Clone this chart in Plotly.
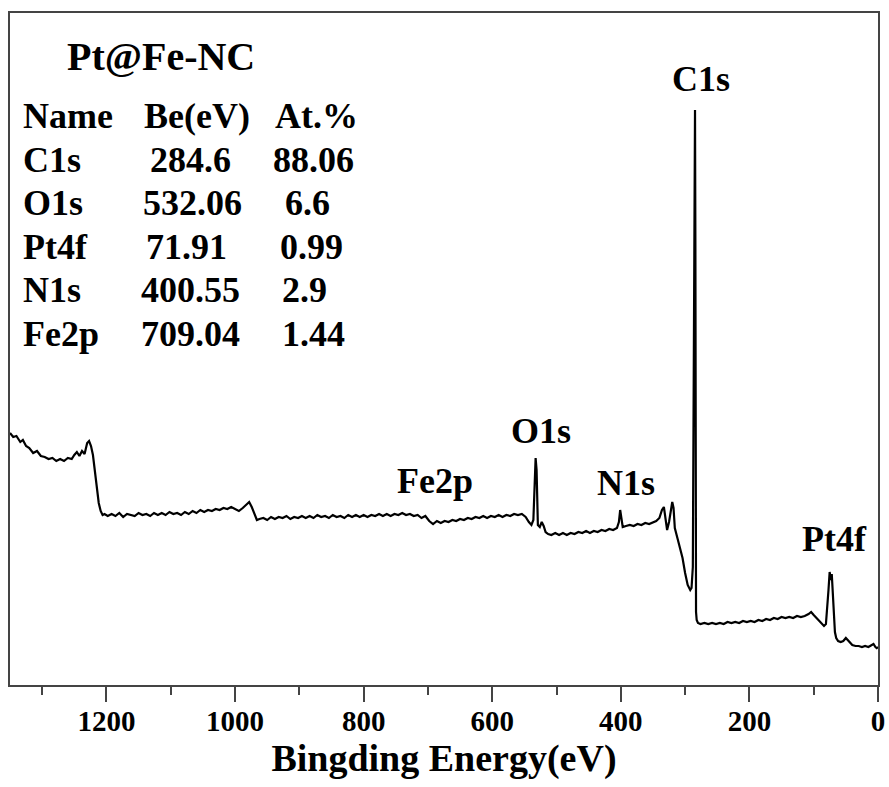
import plotly.graph_objects as go

# XPS survey spectrum of Pt@Fe-NC (binding energy in eV, intensity in kCPS)
binding_energy = [
    1350, 1345, 1340, 1334, 1330, 1325, 1320, 1314, 1308, 1302, 1296, 1290, 1284, 1278, 1272,
    1266, 1260, 1254, 1250, 1246, 1242, 1238, 1234, 1230, 1227, 1224, 1221, 1218, 1215, 1212,
    1209, 1206, 1203, 1198, 1192, 1186, 1180, 1174, 1168, 1162, 1156, 1150, 1144, 1138, 1132,
    1126, 1120, 1114, 1108, 1102, 1096, 1090, 1084, 1078, 1072, 1066, 1060, 1054, 1048, 1042,
    1036, 1030, 1024, 1018, 1012, 1006, 1000, 994, 988, 982, 978, 974, 970, 966, 962,
    956, 950, 944, 938, 932, 926, 920, 914, 908, 902, 896, 890, 884, 878, 872,
    866, 860, 854, 848, 842, 836, 830, 824, 818, 812, 806, 800, 794, 788, 782,
    776, 770, 764, 758, 752, 746, 740, 734, 728, 722, 716, 710, 704, 698, 692,
    686, 680, 674, 668, 662, 656, 650, 644, 638, 632, 626, 620, 614, 608, 602,
    596, 590, 584, 578, 572, 566, 560, 554, 548, 543, 539, 536, 534, 532.5, 531,
    529, 526, 523, 520, 517, 513, 508, 502, 496, 490, 484, 478, 472, 466, 460,
    454, 448, 442, 436, 430, 424, 418, 412, 406, 403, 401, 399, 397, 392, 386,
    380, 374, 368, 362, 356, 350, 345, 340, 336, 333, 330, 328, 325, 322, 320,
    318, 316, 312, 308, 304, 300, 296, 292, 290, 288, 286.5, 285.5, 284.6, 284, 283.4,
    283, 282, 280, 276, 270, 264, 258, 252, 246, 240, 234, 228, 222, 216, 210,
    204, 198, 192, 186, 180, 174, 168, 162, 156, 150, 144, 138, 132, 126, 120,
    114, 108, 104, 100, 96, 92, 88, 84, 81, 79, 77, 75.2, 73.5, 71.9, 70.5,
    69, 67, 65, 62, 58, 54, 50, 47, 44, 40, 35, 30, 25, 20, 15,
    10, 7, 4, 2, 0,
]
intensity = [
    63.0, 62.0, 62.25, 60.75, 61.25, 59.75, 59.25, 58.0, 58.5, 57.25, 57.0, 56.5, 56.75, 56.0, 56.5,
    56.0, 56.75, 56.5, 57.5, 58.25, 57.25, 58.5, 57.75, 60.5, 61.0, 59.75, 57.5, 53.75, 49.25, 45.5,
    43.5, 42.5, 42.75, 42.25, 42.75, 42.25, 43.0, 42.0, 42.75, 42.5, 42.25, 43.0, 42.5, 42.75, 42.25,
    43.0, 42.5, 43.0, 42.5, 43.25, 42.75, 43.0, 42.5, 43.25, 42.75, 43.5, 43.0, 43.75, 43.25, 43.75,
    43.5, 44.0, 43.75, 44.25, 44.0, 44.5, 44.0, 43.5, 44.25, 45.25, 45.75, 44.5, 42.75, 41.25, 41.5,
    41.75, 41.25, 42.0, 41.5, 42.0, 41.75, 42.25, 41.5, 42.0, 41.75, 42.25, 41.75, 42.25, 41.75, 42.5,
    42.0, 42.25, 41.75, 42.5, 42.0, 42.25, 41.75, 42.5, 42.0, 42.5, 42.0, 42.5, 42.0, 42.5, 42.25,
    42.75, 42.25, 42.75, 42.25, 42.75, 42.5, 43.0, 42.5, 42.75, 42.25, 42.5, 41.75, 42.25, 41.0, 40.25,
    41.0, 40.5, 41.0, 40.75, 41.25, 41.0, 41.5, 41.25, 41.75, 41.5, 42.0, 41.75, 42.25, 41.75, 42.25,
    42.0, 42.5, 42.0, 42.5, 42.25, 42.75, 42.5, 42.75, 42.0, 40.75, 40.0, 41.25, 53.75, 56.75, 53.75,
    40.0, 39.5, 40.75, 39.75, 38.25, 37.75, 37.5, 38.0, 37.5, 38.0, 37.5, 38.0, 37.75, 38.25, 38.0,
    38.5, 38.0, 38.5, 38.25, 38.75, 38.5, 39.0, 38.75, 39.25, 40.75, 43.75, 41.25, 39.5, 39.75, 40.0,
    39.75, 40.25, 40.0, 40.5, 40.25, 40.75, 41.0, 41.75, 43.75, 44.5, 41.25, 38.75, 40.75, 44.25, 45.75,
    44.25, 39.25, 36.75, 34.5, 31.75, 28.0, 25.0, 23.75, 24.25, 29.5, 71.25, 126.25, 143.75, 108.75, 31.25,
    18.25, 16.25, 15.5, 15.25, 15.5, 15.25, 15.5, 15.25, 15.5, 15.25, 15.75, 15.5, 15.75, 15.5, 16.0,
    15.75, 16.0, 15.75, 16.25, 16.0, 16.5, 16.25, 16.75, 16.5, 17.0, 16.75, 17.0, 16.75, 17.25, 17.0,
    17.25, 17.75, 18.25, 17.5, 16.75, 16.0, 15.25, 14.75, 15.25, 18.75, 23.75, 28.25, 26.25, 27.75, 23.75,
    18.0, 13.25, 11.75, 11.0, 10.75, 11.0, 11.75, 11.25, 10.5, 10.0, 9.75, 9.75, 9.5, 9.75, 9.5,
    10.0, 10.25, 9.5, 9.25, 9.5,
]

# Peak labels placed above the spectrum (label, energy, intensity)
peak_names = ["C1s", "O1s", "Fe2p", "N1s", "Pt4f"]
peak_label_energy = [275, 524, 689, 392, 68]
peak_label_height = [151.5, 63.5, 51.0, 50.5, 36.5]

# Quantification table
sample_name = "Pt@Fe-NC"
table_header = ["Name", "Be(eV)", "At.%"]
elements = ["C1s", "O1s", "Pt4f", "N1s", "Fe2p"]
be_values = ["284.6", "532.06", "71.91", "400.55", "709.04"]
at_percent = ["88.06", "6.6", "0.99", "2.9", "1.44"]

tick_values = [0, 200, 400, 600, 800, 1000, 1200]

SERIF = "Liberation Serif"
W, H = 889, 787
L, R, T, B = 10, 11, 13, 102
plot_w = W - L - R
plot_h = H - T - B


def px_to_paper(px, py):
    return (px - L) / plot_w, (H - B - py) / plot_h


fig = go.Figure()
fig.add_trace(go.Scatter(
    x=binding_energy, y=intensity, mode="lines",
    line=dict(color="black", width=2.2), showlegend=False, hoverinfo="x+y",
))

annotations = []
for name, ex, ey in zip(peak_names, peak_label_energy, peak_label_height):
    annotations.append(dict(
        x=ex, y=ey, xref="x", yref="y", text=name, showarrow=False,
        font=dict(family=SERIF, size=36, color="black", weight="bold"),
        xanchor="center", yanchor="middle",
    ))

# Sample name
sx, sy = px_to_paper(161, 56)
annotations.append(dict(
    x=sx, y=sy, xref="paper", yref="paper", text=sample_name, showarrow=False,
    font=dict(family=SERIF, size=40, color="black", weight="bold"),
    xanchor="center", yanchor="middle",
))

# Table rows
row_y = [116, 160, 203, 247, 290, 334]
col1_x = 21
col2_x = [197, 190, 192, 186, 190, 190]
col3_x = [316, 313, 307, 311, 304, 313]
rows = [table_header] + [list(r) for r in zip(elements, be_values, at_percent)]
tfont = dict(family=SERIF, size=36, color="black", weight="bold")
for i, row in enumerate(rows):
    x1, y1 = px_to_paper(col1_x, row_y[i])
    annotations.append(dict(x=x1, y=y1, xref="paper", yref="paper", text=row[0],
                            showarrow=False, font=tfont, xanchor="left", yanchor="middle"))
    x2, _ = px_to_paper(col2_x[i], row_y[i])
    annotations.append(dict(x=x2, y=y1, xref="paper", yref="paper", text=row[1],
                            showarrow=False, font=tfont, xanchor="center", yanchor="middle"))
    x3, _ = px_to_paper(col3_x[i], row_y[i])
    annotations.append(dict(x=x3, y=y1, xref="paper", yref="paper", text=row[2],
                            showarrow=False, font=tfont, xanchor="center", yanchor="middle"))

fig.update_layout(
    width=W, height=H,
    margin=dict(l=L, r=R, t=T, b=B, pad=0, autoexpand=False),
    paper_bgcolor="white", plot_bgcolor="white",
    annotations=annotations,
    xaxis=dict(
        range=[1350, 0], autorange=False, automargin=False,
        tickvals=tick_values, ticktext=[str(v) for v in tick_values],
        ticks="outside", ticklen=15, tickwidth=1.5, tickcolor="#444",
        ticklabelstandoff=-6,
        minor=dict(ticks="outside", ticklen=8, tickwidth=1.5, tickcolor="#444", dtick=100, tick0=0),
        showline=True, linecolor="#444", linewidth=1.5, mirror=True,
        showgrid=False, zeroline=False,
        tickfont=dict(family=SERIF, size=29, color="black", weight="bold"),
        title=dict(text="Bingding Energy(eV)", standoff=4,
                   font=dict(family=SERIF, size=38, color="black", weight="bold")),
    ),
    yaxis=dict(
        range=[0, 168], autorange=False, automargin=False,
        showticklabels=False, ticks="",
        showline=True, linecolor="#444", linewidth=1.5, mirror=True,
        showgrid=False, zeroline=False,
    ),
)

fig.write_html("out.html")
